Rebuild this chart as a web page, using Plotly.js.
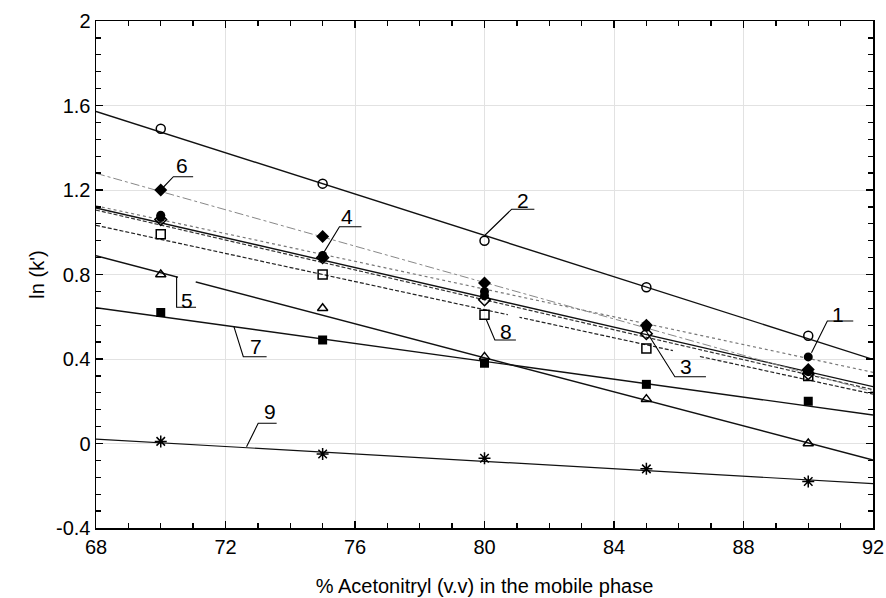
<!DOCTYPE html>
<html>
<head>
<meta charset="utf-8">
<script src="https://cdn.plot.ly/plotly-3.0.1.min.js"></script>
<style>html,body{margin:0;padding:0;background:#fff;}#chart{width:886px;height:598px;}</style>
</head>
<body>
<div id="chart"></div>
<script>
// ---- data ----
const xPts = [70, 75, 80, 85, 90];
const s1 = [1.07, 0.89, 0.72, 0.56, 0.41];
const s2 = [1.49, 1.23, 0.96, 0.74, 0.51];
const s3 = [1.06, 0.88, 0.68, 0.52, 0.33];
const s4 = [1.08, 0.88, 0.70, 0.55, 0.34];
const s5 = [0.80, 0.64, 0.41, 0.21, 0.00];
const s6 = [1.20, 0.98, 0.76, 0.56, 0.35];
const s7 = [0.62, 0.49, 0.38, 0.28, 0.20];
const s8 = [0.99, 0.80, 0.61, 0.45, 0.32];
const s9 = [0.01, -0.05, -0.07, -0.12, -0.18];

// fitted regression lines, value at x = 68 and x = 92
const xFit = [68, 92];
const fit1 = [1.125, 0.337];
const fit2 = [1.572, 0.398];
const fit3 = [1.105, 0.255];
const fit4 = [1.115, 0.269];
const fit5 = [0.889, -0.078];
const fit6 = [1.279, 0.245];
const fit7 = [0.643, 0.135];
const fit8 = [1.033, 0.234];
const fit9 = [0.021, -0.19];

const seriesNames = ['1', '2', '3', '4', '5', '6', '7', '8', '9'];
const yTickVals = [-0.4, 0, 0.4, 0.8, 1.2, 1.6, 2];
const yTickText = ['-0.4', '0', '0.4', '0.8', '1.2', '1.6', '2'];
const yMinorVals = [-0.32, -0.24, -0.16, -0.08, 0.08, 0.16, 0.24, 0.32, 0.48, 0.56, 0.64, 0.72,
  0.88, 0.96, 1.04, 1.12, 1.28, 1.36, 1.44, 1.52, 1.68, 1.76, 1.84, 1.92];

// ---- styling ----
const FONT = 'Liberation Sans, Arial, sans-serif';
const allPts = [s1, s2, s3, s4, s5, s6, s7, s8, s9];
const allFits = [fit1, fit2, fit3, fit4, fit5, fit6, fit7, fit8, fit9];
const lineStyles = [
  {color: '#777', width: 1.2, dash: 'dot'},
  {color: '#111', width: 1.4, dash: 'solid'},
  {color: '#333', width: 1.2, dash: '4px,2px'},
  {color: '#111', width: 1.4, dash: 'solid'},
  {color: '#111', width: 1.4, dash: 'solid'},
  {color: '#888', width: 1.0, dash: 'dashdot'},
  {color: '#111', width: 1.4, dash: 'solid'},
  {color: '#222', width: 1.2, dash: '4px,2px'},
  {color: '#111', width: 1.2, dash: 'solid'}
];
const markerStyles = [
  {symbol: 'circle', size: 9, color: '#000'},
  {symbol: 'circle-open', size: 9, color: '#000', line: {width: 1.5, color: '#000'}},
  {symbol: 'diamond-open', size: 9, color: '#000', line: {width: 1.5, color: '#000'}},
  {symbol: 'circle', size: 9, color: '#000'},
  {symbol: 'triangle-up-open', size: 9, color: '#000', line: {width: 1.5, color: '#000'}},
  {symbol: 'diamond', size: 10, color: '#000'},
  {symbol: 'square', size: 9, color: '#000'},
  {symbol: 'square-open', size: 9, color: '#000', line: {width: 1.5, color: '#000'}},
  {symbol: 'asterisk-open', size: 10, color: '#000', line: {width: 1.5, color: '#000'}}
];

const traces = [];
allFits.forEach((f, i) => {
  traces.push({x: xFit, y: f, mode: 'lines', line: lineStyles[i], name: 'fit ' + seriesNames[i],
    showlegend: false, hoverinfo: 'skip'});
});
allPts.forEach((p, i) => {
  const m = Object.assign({}, markerStyles[i]);
  if (!m.line) m.line = {width: 0};
  traces.push({x: xPts, y: p, mode: 'markers', marker: m, name: seriesNames[i], showlegend: false,
    cliponaxis: false});
});

// label leaders
const labelDefs = [
  {t: '6', pts: [[70.08, 1.213], [70.39, 1.263], [71.0, 1.263]], tx: 70.67, ty: 1.318},
  {t: '4', pts: [[75.02, 0.90], [75.52, 1.026], [76.2, 1.026]], tx: 75.76, ty: 1.074},
  {t: '2', pts: [[80.02, 0.987], [80.84, 1.109], [81.54, 1.109]], tx: 81.18, ty: 1.149},
  {t: '8', pts: [[80.05, 0.588], [80.32, 0.49], [80.97, 0.49]], tx: 80.66, ty: 0.529},
  {t: '3', pts: [[85.0, 0.53], [85.88, 0.316], [86.84, 0.316]], tx: 86.22, ty: 0.364},
  {t: '1', pts: [[90.1, 0.43], [90.59, 0.58], [91.39, 0.58]], tx: 90.93, ty: 0.612},
  {t: '5', pts: [[70.49, 0.79], [70.49, 0.645], [71.09, 0.645]], tx: 70.80, ty: 0.679},
  {t: '7', pts: [[72.26, 0.553], [72.55, 0.411], [73.27, 0.411]], tx: 72.93, ty: 0.458},
  {t: '9', pts: [[72.65, -0.015], [73.01, 0.096], [73.58, 0.096]], tx: 73.37, ty: 0.151}
];
// white breaks in lines next to labels (as in the original figure)
const gaps = [
  [[70.53, 0.787], [71.08, 0.765]],
  [[80.72, 0.6095], [81.08, 0.5975]],
  [[85.82, 0.440], [86.6, 0.414]]
];
const shapes = gaps.map(g => ({
  type: 'line', xref: 'x', yref: 'y', x0: g[0][0], y0: g[0][1], x1: g[1][0], y1: g[1][1],
  line: {color: '#fff', width: 4}, layer: 'above'
})).concat(labelDefs.map(d => ({
  type: 'path', xref: 'x', yref: 'y',
  path: 'M ' + d.pts.map(p => p[0] + ',' + p[1]).join(' L '),
  line: {color: '#000', width: 1.1}, layer: 'above'
})));
const annotations = labelDefs.map(d => ({
  x: d.tx, y: d.ty, xref: 'x', yref: 'y', text: d.t, showarrow: false,
  xanchor: 'center', yanchor: 'middle', font: {family: FONT, size: 21, color: '#000'}
}));

const layout = {
  width: 886, height: 598,
  margin: {l: 96, r: 13, t: 21, b: 70},
  paper_bgcolor: '#fff', plot_bgcolor: '#fff',
  font: {family: FONT, size: 19, color: '#000'},
  showlegend: false,
  xaxis: {
    range: [68, 92], dtick: 4, tick0: 68,
    ticks: 'inside', ticklen: 7, tickwidth: 1.5, tickcolor: '#000',
    showline: true, linecolor: '#000', linewidth: 1.5, mirror: 'allticks',
    minor: {dtick: 1, ticks: 'inside', ticklen: 5, tickwidth: 1.3, tickcolor: '#000'},
    showgrid: true, gridcolor: '#e2e2e2', gridwidth: 1, zeroline: false,
    tickfont: {family: FONT, size: 20, color: '#000'},
    title: {text: '% Acetonitryl (v.v) in the mobile phase', font: {family: FONT, size: 20}, standoff: 22}
  },
  yaxis: {
    range: [-0.4, 2], tickmode: 'array', tickvals: yTickVals, ticktext: yTickText,
    ticks: 'inside', ticklen: 7, tickwidth: 1.5, tickcolor: '#000',
    showline: true, linecolor: '#000', linewidth: 1.5, mirror: 'allticks',
    minor: {tickmode: 'array', tickvals: yMinorVals, ticks: 'inside', ticklen: 5, tickwidth: 1.3, tickcolor: '#000'},
    showgrid: true, gridcolor: '#e2e2e2', gridwidth: 1, zeroline: false,
    tickfont: {family: FONT, size: 20, color: '#000'},
    title: {text: "ln (k')", font: {family: FONT, size: 20}, standoff: 6}
  },
  shapes: shapes,
  annotations: annotations
};

Plotly.newPlot('chart', traces, layout, {displayModeBar: false, staticPlot: true});
</script>
</body>
</html>
